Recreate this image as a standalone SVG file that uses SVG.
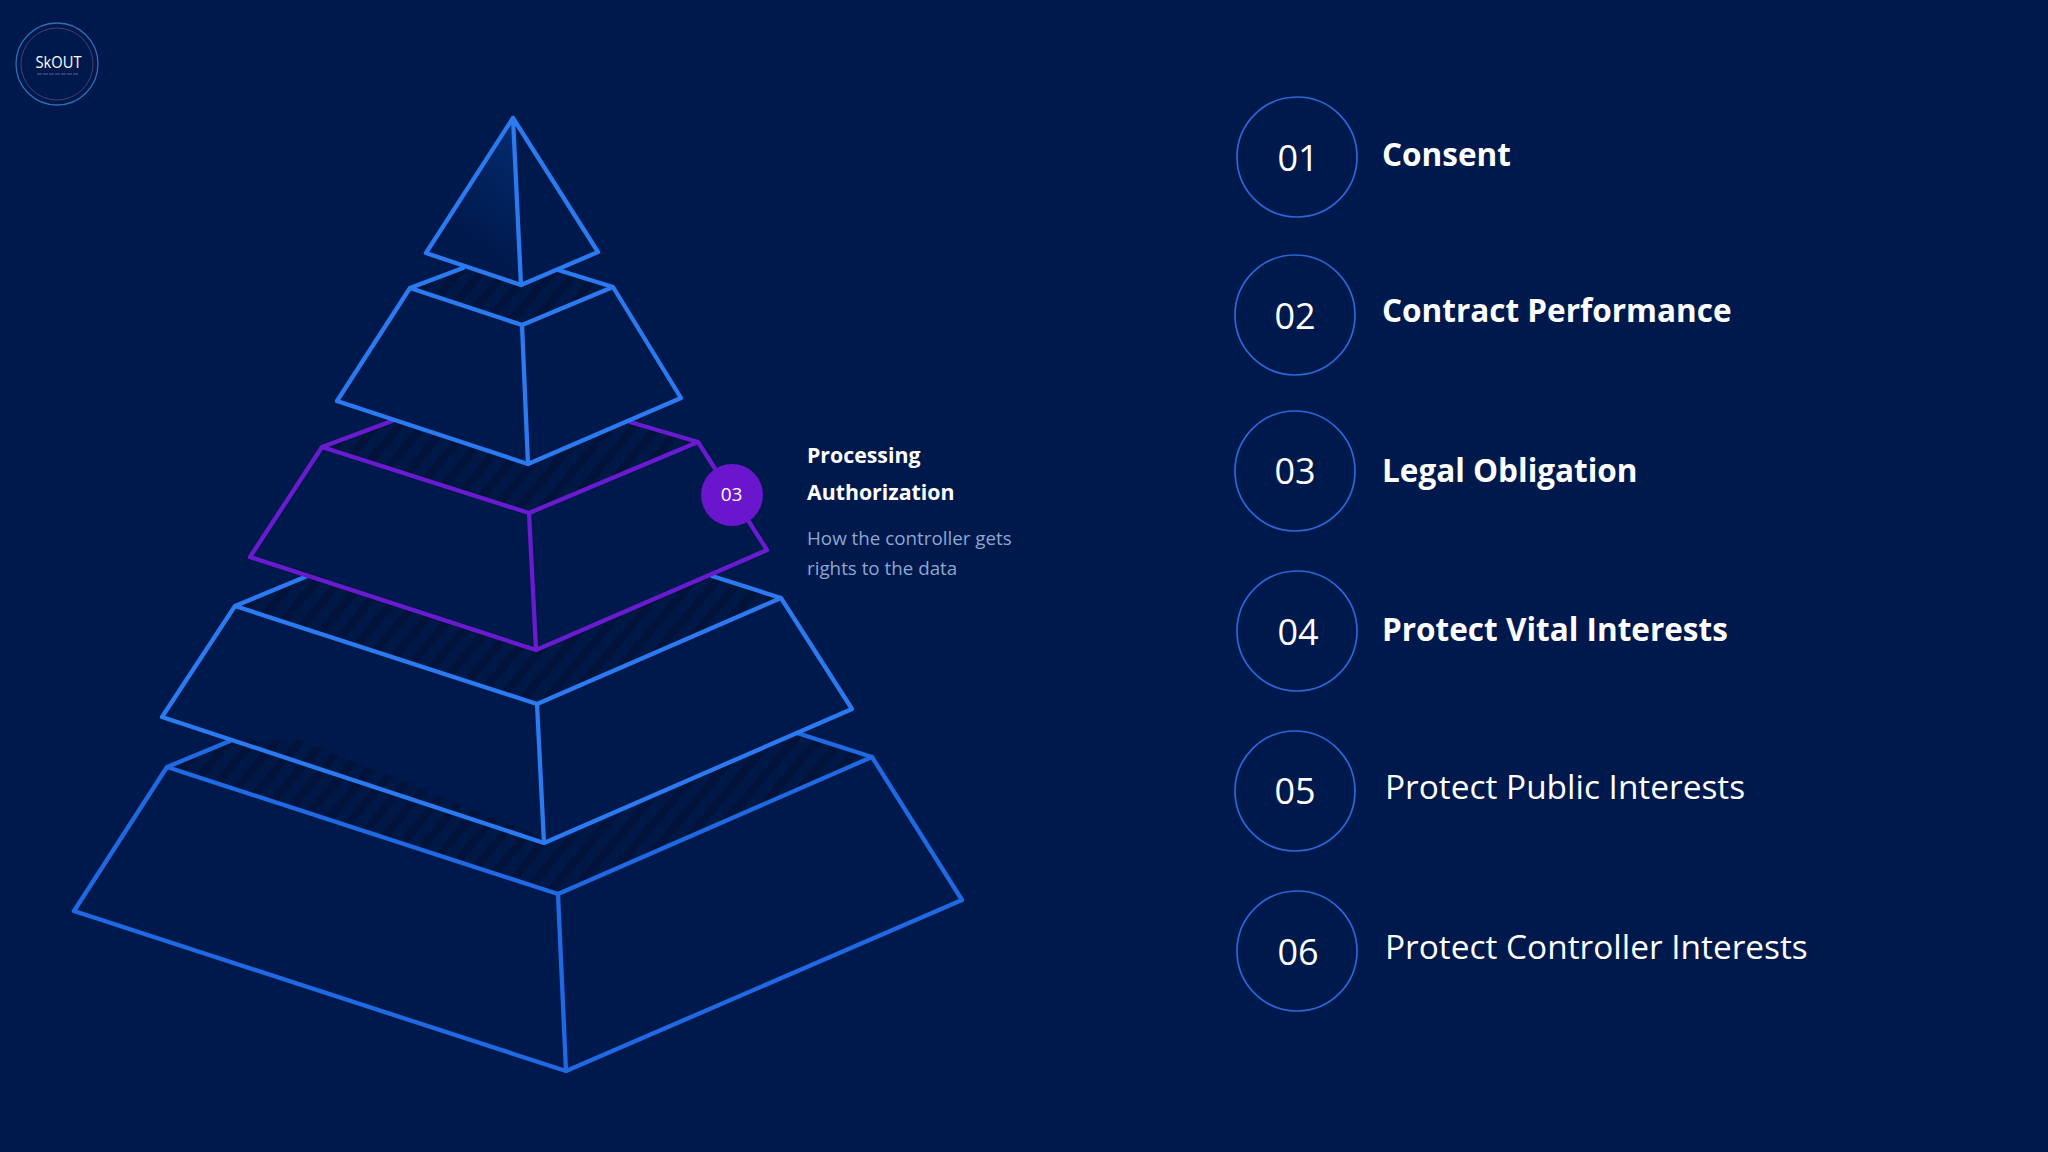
<svg xmlns="http://www.w3.org/2000/svg" width="2048" height="1152" viewBox="0 0 2048 1152">
<defs>
<style>
.t{font-family:"Open Sans","Noto Sans",sans-serif;fill:#fff}
.b{font-weight:700;font-size:31.500px}
.r{font-size:33.400px}
.n{font-size:36px;text-anchor:middle}
.c{fill:none;stroke:#2a68d8;stroke-width:1.700}
.l{fill:none;stroke:#2b7af0;stroke-width:4.300;stroke-linejoin:round;stroke-linecap:round}
.d{stroke:#1f69e2}
.p{stroke:#6a1bcf}
.h{fill:url(#hatch)}
</style>
<pattern id="hatch" width="18" height="18" patternUnits="userSpaceOnUse" patternTransform="rotate(40)">
<rect width="18" height="18" fill="#001846"/>
<rect width="8" height="18" fill="#01133a"/>
</pattern>
<linearGradient id="glow" x1="0.8" y1="0.05" x2="0.5" y2="0.75">
<stop offset="0" stop-color="#032a6c"/>
<stop offset="1" stop-color="#00194c"/>
</linearGradient>
</defs>
<rect width="2048" height="1152" fill="#00194c"/>
<g id="logo">
<circle cx="57" cy="64" r="41" fill="none" stroke="#2f6fb0" stroke-width="1.300"/>
<circle cx="57" cy="64" r="36" fill="none" stroke="#463f70" stroke-width="1"/>
<text class="t" x="35.500" y="68" font-size="17" textLength="46" lengthAdjust="spacingAndGlyphs">SkOUT</text>
<line x1="37" y1="74" x2="78" y2="74" stroke="#2a3f78" stroke-width="2" stroke-dasharray="5 1"/>
</g>
<g id="connectors">
<polygon class="h" points="230,741 167,767 558,894 872,757 797,733 557,843 300,740"/>
<polygon class="h" points="305,577 235,606 537,704 781,598 712,576 535,650 300,570"/>
<polygon class="h" points="392,421 322,447 529,513 698,442 630,422 528,464"/>
<polygon class="h" points="463,268 410,288 522,325 613,287 558,270 522,285"/>
</g>
<g id="tier-5">
<path class="l d" d="M230 741 167 767 558 894 872 757 797 733M167 767 74 911 566 1071 962 900 872 757M558 894 566 1071"/>
</g>
<g id="tier-4">
<path class="l" d="M305 577 235 606 537 704 781 598 712 576M235 606 162 717 544 843 852 709 781 598M537 704 544 843"/>
</g>
<g id="tier-3">
<path class="l p" d="M392 421 322 447 529 513 698 442 630 422M322 447 250 557 536 650 767 550 698 442M529 513 536 650"/>
</g>
<g id="tier-2">
<path class="l" d="M463 268 410 288 522 325 613 287 558 270M410 288 337 401 528 464 681 398 613 287M522 325 528 464"/>
</g>
<g id="tier-1">
<path d="M513 118 426 253 522 285Z" fill="url(#glow)"/>
<path class="l" d="M513 118 426 253 521 285 598 252ZM513 118 521 285"/>
</g>
<g id="badge">
<circle cx="732" cy="495" r="31" fill="#6a16cc"/>
<text class="t" x="731.500" y="501" font-size="19" text-anchor="middle">03</text>
</g>
<g id="callout">
<text class="t" x="807" y="463" font-size="21.300" font-weight="700">Processing</text>
<text class="t" x="807" y="499.500" font-size="21.300" font-weight="700">Authorization</text>
<text class="t" x="807" y="544.500" font-size="18.800" style="fill:#8fa6cf">How the controller gets</text>
<text class="t" x="807" y="575" font-size="18.800" style="fill:#8fa6cf">rights to the data</text>
</g>
<g id="item-01"><circle class="c" cx="1297" cy="157" r="60"/><text class="t n" x="1298" y="171">01</text><text class="t b" x="1382" y="165.500">Consent</text></g>
<g id="item-02"><circle class="c" cx="1295" cy="315" r="60"/><text class="t n" x="1295" y="329">02</text><text class="t b" x="1382" y="322">Contract Performance</text></g>
<g id="item-03"><circle class="c" cx="1295" cy="471" r="60"/><text class="t n" x="1295" y="484">03</text><text class="t b" x="1382" y="482">Legal Obligation</text></g>
<g id="item-04"><circle class="c" cx="1297" cy="631" r="60"/><text class="t n" x="1298" y="645">04</text><text class="t b" x="1382" y="640.500">Protect Vital Interests</text></g>
<g id="item-05"><circle class="c" cx="1295" cy="791" r="60"/><text class="t n" x="1295" y="804">05</text><text class="t r" x="1385" y="799">Protect Public Interests</text></g>
<g id="item-06"><circle class="c" cx="1297" cy="951" r="60"/><text class="t n" x="1298" y="965">06</text><text class="t r" x="1385" y="959">Protect Controller Interests</text></g>
</svg>
